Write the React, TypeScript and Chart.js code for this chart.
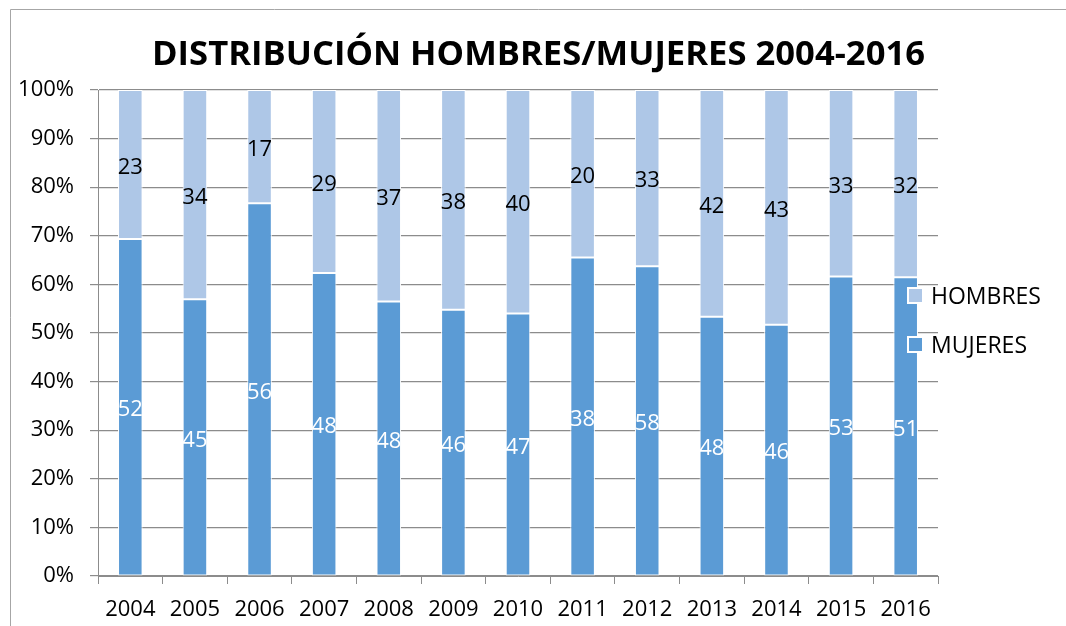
import React, { useEffect, useRef } from "react";
import { Chart, registerables } from "chart.js";

Chart.register(...registerables);

const years = ["2004", "2005", "2006", "2007", "2008", "2009", "2010", "2011", "2012", "2013", "2014", "2015", "2016"];
const mujeres = [52, 45, 56, 48, 48, 46, 47, 38, 58, 48, 46, 53, 51];
const hombres = [23, 34, 17, 29, 37, 38, 40, 20, 33, 42, 43, 33, 32];
const titleText = "DISTRIBUCIÓN HOMBRES/MUJERES 2004-2016";

const COLOR_M = "#5b9bd5";
const COLOR_H = "#aec7e7";
const FONT = "'Open Sans', 'DejaVu Sans', sans-serif";

const totals = years.map((_, i) => mujeres[i] + hombres[i]);
const mujeresPct = mujeres.map((v, i) => (v / totals[i]) * 100);
const hombresPct = hombres.map((v, i) => (v / totals[i]) * 100);

const decorPlugin = {
  id: "decor",
  beforeDraw(chart: any) {
    const ctx = chart.ctx;
    ctx.save();
    ctx.fillStyle = "#ffffff";
    ctx.fillRect(0, 0, chart.width, chart.height);
    ctx.strokeStyle = "#a6a6a6";
    ctx.lineWidth = 1;
    ctx.beginPath();
    ctx.moveTo(10.5, chart.height);
    ctx.lineTo(10.5, 9.5);
    ctx.lineTo(chart.width, 9.5);
    ctx.stroke();
    ctx.restore();
  },
  afterDraw(chart: any) {
    const ctx = chart.ctx;
    ctx.save();
    // title
    ctx.font = `bold 34px ${FONT}`;
    ctx.fillStyle = "#000";
    ctx.textBaseline = "alphabetic";
    ctx.textAlign = "left";
    const w = ctx.measureText(titleText).width;
    const target = 773;
    const sx = target / w;
    ctx.translate(152, 65);
    ctx.scale(sx, 1);
    ctx.fillText(titleText, 0, 0);
    ctx.restore();

    // legend
    ctx.save();
    const items = [
      { label: "HOMBRES", color: COLOR_H, y: 296 },
      { label: "MUJERES", color: COLOR_M, y: 345 },
    ];
    ctx.font = `23px ${FONT}`;
    ctx.textBaseline = "middle";
    ctx.textAlign = "left";
    for (const it of items) {
      ctx.fillStyle = "#ffffff";
      ctx.fillRect(907, it.y - 9, 17, 17);
      ctx.fillStyle = it.color;
      ctx.fillRect(909, it.y - 7, 13, 13);
      ctx.fillStyle = "#000";
      ctx.fillText(it.label, 931, it.y + 1);
    }
    ctx.restore();
  },
  afterDatasetsDraw(chart: any) {
    const ctx = chart.ctx;
    ctx.save();
    ctx.font = `22px ${FONT}`;
    ctx.textAlign = "center";
    ctx.textBaseline = "middle";
    const raw = [mujeres, hombres];
    const colors = ["#ffffff", "#000000"];
    chart.data.datasets.forEach((_: any, di: number) => {
      const meta = chart.getDatasetMeta(di);
      meta.data.forEach((el: any, i: number) => {
        const y = (el.y + el.base) / 2 + 3;
        ctx.fillStyle = colors[di];
        ctx.fillText(String(raw[di][i]), el.x, y);
      });
    });
    ctx.restore();
  },
};

export default function App() {
  const ref = useRef<HTMLCanvasElement | null>(null);
  useEffect(() => {
    if (!ref.current) return;
    const chart = new Chart(ref.current, {
      type: "bar",
      data: {
        labels: years,
        datasets: [
          {
            label: "MUJERES",
            data: mujeresPct,
            backgroundColor: COLOR_M,
            borderColor: "#ffffff",
            borderWidth: 1,
            borderSkipped: false,
            barPercentage: 0.38,
            categoryPercentage: 1,
          },
          {
            label: "HOMBRES",
            data: hombresPct,
            backgroundColor: COLOR_H,
            borderColor: "#ffffff",
            borderWidth: 1,
            borderSkipped: false,
            barPercentage: 0.38,
            categoryPercentage: 1,
          },
        ],
      },
      options: {
        responsive: false,
        animation: false,
        layout: { padding: { left: 0, top: 90, right: 128, bottom: 0 } },
        plugins: {
          legend: { display: false },
          title: { display: false },
          tooltip: { enabled: false },
        },
        scales: {
          x: {
            stacked: true,
            afterFit(scale: any) {
              scale.height = 50;
            },
            grid: {
              display: true,
              drawOnChartArea: false,
              drawTicks: true,
              tickLength: 8,
              color: "#8c8c8c",
              lineWidth: 1,
              offset: true,
            },
            border: { display: true, color: "#8c8c8c", width: 1 },
            ticks: {
              color: "#000",
              font: { family: FONT, size: 22 },
              padding: 13,
              maxRotation: 0,
              autoSkip: false,
            },
          },
          y: {
            stacked: true,
            min: 0,
            max: 100,
            afterFit(scale: any) {
              scale.width = 98;
            },
            grid: {
              color: "#8c8c8c",
              lineWidth: 1.2,
              tickLength: 8,
            },
            border: { display: true, color: "#8c8c8c", width: 1 },
            ticks: {
              stepSize: 10,
              color: "#000",
              font: { family: FONT, size: 22 },
              padding: 16,
              callback: (v: any) => `${v}%`,
            },
          },
        },
      },
      plugins: [decorPlugin],
    });
    return () => chart.destroy();
  }, []);
  return (
    <div style={{ position: "absolute", left: 0, top: 0, width: 1066, height: 626 }}>
      <canvas ref={ref} width={1066} height={626} style={{ display: "block" }} />
    </div>
  );
}
